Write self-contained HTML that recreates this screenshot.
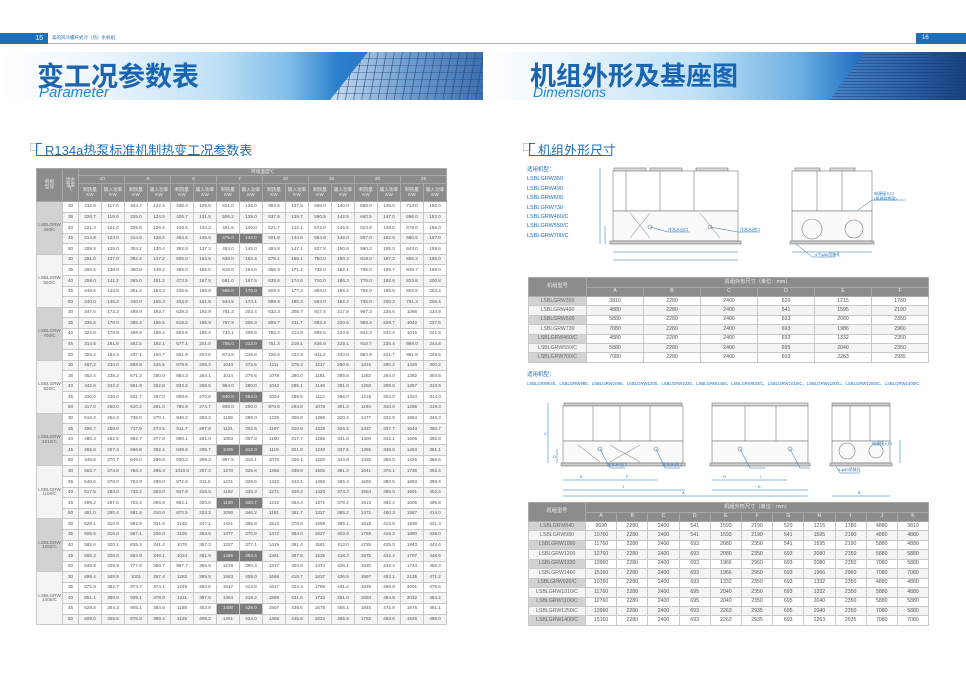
<!DOCTYPE html>
<html><head><meta charset="utf-8">
<style>
*{margin:0;padding:0;box-sizing:border-box}
body{width:966px;height:683px;background:#fff;position:relative;overflow:hidden;font-family:"Liberation Sans","Noto Sans CJK SC",sans-serif}
.abs{position:absolute}
table{border-collapse:collapse;table-layout:fixed;position:absolute}
td{border:1px solid #c8c8c8;text-align:center;font-size:4.6px;color:#555;padding:0;overflow:hidden;white-space:nowrap;line-height:1}
.h td{background:#8c8c8c;color:#f0f0f0;border-color:#a8a8a8}
td.m{background:#d2d2d2;color:#666}
tr.a td{background:#f4f4f4}
td.k{background:#7c7c7c!important;color:#eee}
.lt tr.d{height:10.58px}
.t2 td{font-size:5.2px}
.sec{font-size:13px;color:#1d6fb8}
.brk{position:absolute;border-left:1.5px solid #1d6fb8;border-top:1.5px solid #1d6fb8}
</style></head><body>

<!-- header bars -->
<div class="abs" style="left:0;top:33px;width:48px;height:11px;background:#1d6fb8;color:#fff;font-size:7px;text-align:right;padding-right:5px;line-height:11px">15</div>
<div class="abs" style="left:52px;top:35px;font-size:4.5px;color:#1d6fb8">美的风冷螺杆式冷（热）水机组</div>
<div class="abs" style="left:48px;top:43px;width:868px;height:1px;background:#b0b0b0"></div>
<div class="abs" style="left:916px;top:33px;width:50px;height:11px;background:#1d6fb8;color:#fff;font-size:6px;padding-left:6px;line-height:11px">16</div>

<!-- banners -->
<div class="abs" style="left:0;top:52px;width:483px;height:48px;background:linear-gradient(90deg,#fff 0%,#eef6fc 20%,#bfe0f6 45%,#7fbde9 60%,#2a7fcb 70%,#1b5fae 100%)"></div>
<div class="abs" style="left:330px;top:52px;width:153px;height:48px;background:repeating-linear-gradient(100deg,rgba(255,255,255,0) 0 7px,rgba(40,70,120,.6) 7px 8px),repeating-linear-gradient(0deg,rgba(255,255,255,0) 0 6px,rgba(40,70,120,.4) 6px 7px),linear-gradient(90deg,#c9def2,#6f9fd0 50%,#3c6fb0);clip-path:polygon(38px 0,100% 0,100% 100%,0 100%)"></div>
<div class="abs" style="left:37px;top:55px;font-size:27px;font-weight:bold;color:#1a64b0;letter-spacing:0px">变工况参数表</div>
<div class="abs" style="left:39px;top:84px;font-size:15px;font-style:italic;color:#1a8ad4">Parameter</div>

<div class="abs" style="left:483px;top:52px;width:483px;height:48px;background:linear-gradient(90deg,#fff 0%,#eef6fc 15%,#bfe0f6 45%,#6fb2e4 65%,#1f6fc0 78%,#1b5fae 100%)"></div>
<div class="abs" style="left:830px;top:52px;width:136px;height:48px;background:repeating-linear-gradient(0deg,rgba(20,60,120,.5) 0 1px,rgba(255,255,255,0) 1px 3px),linear-gradient(90deg,#4b86c9,#2a5fa4 60%,#17407e);clip-path:polygon(35px 0,100% 0,100% 100%,0 100%)"></div>
<div class="abs" style="left:530px;top:56px;font-size:26px;font-weight:bold;color:#1a64b0">机组外形及基座图</div>
<div class="abs" style="left:533px;top:84px;font-size:14px;font-style:italic;color:#1a8ad4">Dimensions</div>

<!-- section titles -->
<div class="abs" style="left:30px;top:143px;width:8px;height:8px;border:1px solid #ccc"></div>
<div class="brk" style="left:36px;top:143px;width:6px;height:12px"></div>
<div class="abs" style="left:36px;top:155px;width:192px;height:1px;background:#1d6fb8"></div>
<div class="abs sec" style="left:45px;top:140px">R134a热泵标准机制热变工况参数表</div>

<div class="abs" style="left:523px;top:143px;width:8px;height:8px;border:1px solid #ccc"></div>
<div class="brk" style="left:529px;top:143px;width:6px;height:12px"></div>
<div class="abs" style="left:529px;top:155px;width:79px;height:1px;background:#1d6fb8"></div>
<div class="abs sec" style="left:538px;top:140px">机组外形尺寸</div>

<!-- LEFT TABLE -->
<table class="lt" style="left:36px;top:168px;width:410px">
<colgroup><col style="width:26px"><col style="width:16px"><col span="16" style="width:23px"></colgroup>
<tr class="h" style="height:7px"><td rowspan="3">机组<br>型号</td><td rowspan="3">出水<br>温度<br>℃</td><td colspan="16">环境温度℃</td></tr>
<tr class="h" style="height:8px"><td colspan="2">-10</td><td colspan="2">-5</td><td colspan="2">0</td><td colspan="2">7</td><td colspan="2">10</td><td colspan="2">15</td><td colspan="2">20</td><td colspan="2">25</td></tr>
<tr class="h" style="height:18px"><td>制热量<br>KW</td><td>输入功率<br>KW</td><td>制热量<br>KW</td><td>输入功率<br>KW</td><td>制热量<br>KW</td><td>输入功率<br>KW</td><td>制热量<br>KW</td><td>输入功率<br>KW</td><td>制热量<br>KW</td><td>输入功率<br>KW</td><td>制热量<br>KW</td><td>输入功率<br>KW</td><td>制热量<br>KW</td><td>输入功率<br>KW</td><td>制热量<br>KW</td><td>输入功率<br>KW</td></tr>

<tr class="d"><td class="m" rowspan="5">LSBLGRW<br>460/C</td><td>30</td><td>232.9</td><td>117.0</td><td>343.7</td><td>122.4</td><td>438.4</td><td>129.5</td><td>521.0</td><td>136.0</td><td>553.6</td><td>137.5</td><td>608.0</td><td>140.0</td><td>658.0</td><td>145.0</td><td>713.0</td><td>150.0</td></tr>
<tr class="d a"><td>35</td><td>226.7</td><td>119.0</td><td>335.0</td><td>124.5</td><td>426.7</td><td>131.8</td><td>506.2</td><td>138.0</td><td>537.8</td><td>139.7</td><td>590.5</td><td>142.5</td><td>640.5</td><td>147.0</td><td>696.0</td><td>152.0</td></tr>
<tr class="d"><td>40</td><td>221.3</td><td>121.0</td><td>325.6</td><td>126.4</td><td>416.6</td><td>133.2</td><td>491.5</td><td>140.0</td><td>521.7</td><td>142.1</td><td>572.0</td><td>145.5</td><td>623.8</td><td>149.5</td><td>678.0</td><td>155.0</td></tr>
<tr class="d a"><td>45</td><td>214.8</td><td>123.0</td><td>314.9</td><td>128.5</td><td>404.5</td><td>135.0</td><td class="k">475.0</td><td class="k">142.0</td><td>501.8</td><td>144.6</td><td>554.8</td><td>148.0</td><td>607.0</td><td>152.0</td><td>660.5</td><td>157.0</td></tr>
<tr class="d"><td>50</td><td>208.8</td><td>125.0</td><td>304.1</td><td>130.4</td><td>392.9</td><td>137.2</td><td>453.0</td><td>145.0</td><td>484.8</td><td>147.1</td><td>537.8</td><td>150.6</td><td>590.3</td><td>155.0</td><td>643.0</td><td>159.5</td></tr>

<tr class="d a"><td class="m" rowspan="5">LSBLGRW<br>550/C</td><td>30</td><td>281.0</td><td>137.0</td><td>392.2</td><td>147.2</td><td>505.0</td><td>153.5</td><td>635.0</td><td>162.4</td><td>678.1</td><td>169.1</td><td>750.0</td><td>180.3</td><td>819.0</td><td>187.2</td><td>866.3</td><td>195.0</td></tr>
<tr class="d"><td>35</td><td>269.5</td><td>139.0</td><td>380.8</td><td>149.2</td><td>485.0</td><td>155.5</td><td>615.0</td><td>164.6</td><td>656.9</td><td>171.2</td><td>732.0</td><td>182.1</td><td>795.0</td><td>189.7</td><td>845.7</td><td>198.0</td></tr>
<tr class="d a"><td>40</td><td>258.0</td><td>141.2</td><td>365.0</td><td>151.2</td><td>473.5</td><td>157.8</td><td>591.0</td><td>167.5</td><td>635.6</td><td>174.6</td><td>710.0</td><td>186.3</td><td>776.0</td><td>192.6</td><td>823.8</td><td>200.8</td></tr>
<tr class="d"><td>45</td><td>249.6</td><td>143.5</td><td>351.2</td><td>153.3</td><td>445.6</td><td>159.8</td><td class="k">565.0</td><td class="k">170.0</td><td>609.6</td><td>177.2</td><td>684.0</td><td>189.2</td><td>755.0</td><td>196.5</td><td>802.5</td><td>203.4</td></tr>
<tr class="d a"><td>50</td><td>240.0</td><td>145.2</td><td>340.0</td><td>155.3</td><td>434.8</td><td>161.8</td><td>544.5</td><td>173.1</td><td>588.9</td><td>180.3</td><td>663.0</td><td>192.2</td><td>735.0</td><td>200.3</td><td>781.3</td><td>206.4</td></tr>

<tr class="d"><td class="m" rowspan="5">LSBLGRW<br>700/C</td><td>30</td><td>347.5</td><td>173.3</td><td>498.9</td><td>183.7</td><td>639.3</td><td>192.9</td><td>781.3</td><td>203.4</td><td>832.3</td><td>208.7</td><td>917.4</td><td>217.6</td><td>997.3</td><td>225.6</td><td>1068</td><td>234.9</td></tr>
<tr class="d a"><td>35</td><td>335.6</td><td>176.0</td><td>485.4</td><td>186.5</td><td>616.2</td><td>195.9</td><td>757.9</td><td>206.3</td><td>806.7</td><td>211.7</td><td>893.2</td><td>220.6</td><td>969.4</td><td>228.7</td><td>1042</td><td>237.6</td></tr>
<tr class="d"><td>40</td><td>324.8</td><td>178.9</td><td>468.9</td><td>189.2</td><td>603.6</td><td>198.4</td><td>732.1</td><td>209.6</td><td>782.2</td><td>214.9</td><td>865.6</td><td>223.6</td><td>942.3</td><td>232.4</td><td>1015</td><td>241.8</td></tr>
<tr class="d a"><td>45</td><td>314.5</td><td>181.8</td><td>452.5</td><td>192.1</td><td>577.1</td><td>201.0</td><td class="k">706.0</td><td class="k">213.0</td><td>751.3</td><td>219.1</td><td>836.9</td><td>229.1</td><td>910.7</td><td>235.4</td><td>989.0</td><td>244.8</td></tr>
<tr class="d"><td>50</td><td>304.2</td><td>184.4</td><td>437.1</td><td>194.7</td><td>561.9</td><td>203.6</td><td>674.6</td><td>216.8</td><td>725.6</td><td>222.9</td><td>811.2</td><td>233.0</td><td>884.9</td><td>241.7</td><td>961.8</td><td>249.5</td></tr>

<tr class="d a"><td class="m" rowspan="5">LSBLGRW<br>920/C</td><td>30</td><td>467.2</td><td>234.0</td><td>688.8</td><td>245.5</td><td>878.6</td><td>259.3</td><td>1044</td><td>272.5</td><td>1111</td><td>275.3</td><td>1217</td><td>280.6</td><td>1316</td><td>290.2</td><td>1426</td><td>300.2</td></tr>
<tr class="d"><td>35</td><td>453.4</td><td>238.2</td><td>671.3</td><td>250.0</td><td>854.3</td><td>264.1</td><td>1014</td><td>276.6</td><td>1078</td><td>280.0</td><td>1181</td><td>285.8</td><td>1282</td><td>294.0</td><td>1392</td><td>304.6</td></tr>
<tr class="d a"><td>40</td><td>442.6</td><td>242.2</td><td>651.9</td><td>252.8</td><td>833.2</td><td>266.5</td><td>984.0</td><td>280.0</td><td>1043</td><td>285.1</td><td>1146</td><td>291.0</td><td>1250</td><td>299.0</td><td>1357</td><td>310.6</td></tr>
<tr class="d"><td>45</td><td>430.0</td><td>246.0</td><td>631.7</td><td>257.0</td><td>809.6</td><td>270.8</td><td class="k">940.0</td><td class="k">284.0</td><td>1004</td><td>289.5</td><td>1112</td><td>296.0</td><td>1216</td><td>304.0</td><td>1324</td><td>314.0</td></tr>
<tr class="d a"><td>50</td><td>417.0</td><td>250.0</td><td>610.2</td><td>261.0</td><td>785.9</td><td>274.7</td><td>906.0</td><td>290.0</td><td>970.6</td><td>294.8</td><td>1078</td><td>301.3</td><td>1184</td><td>310.0</td><td>1286</td><td>319.3</td></tr>

<tr class="d"><td class="m" rowspan="5">LSBLGRW<br>1010/C</td><td>30</td><td>516.4</td><td>254.3</td><td>736.0</td><td>270.1</td><td>946.2</td><td>283.3</td><td>1159</td><td>299.0</td><td>1235</td><td>306.8</td><td>1368</td><td>320.3</td><td>1477</td><td>332.9</td><td>1584</td><td>346.3</td></tr>
<tr class="d a"><td>35</td><td>496.7</td><td>258.0</td><td>717.9</td><td>274.5</td><td>911.7</td><td>287.8</td><td>1121</td><td>302.6</td><td>1197</td><td>310.9</td><td>1326</td><td>326.2</td><td>1437</td><td>337.7</td><td>1543</td><td>350.7</td></tr>
<tr class="d"><td>40</td><td>480.3</td><td>262.5</td><td>692.7</td><td>277.8</td><td>890.1</td><td>291.0</td><td>1083</td><td>307.8</td><td>1160</td><td>317.7</td><td>1285</td><td>331.8</td><td>1400</td><td>342.1</td><td>1506</td><td>355.8</td></tr>
<tr class="d a"><td>45</td><td>465.8</td><td>267.3</td><td>666.8</td><td>282.4</td><td>849.9</td><td>295.7</td><td class="k">1035</td><td class="k">312.0</td><td>1115</td><td>321.8</td><td>1240</td><td>337.5</td><td>1365</td><td>348.0</td><td>1463</td><td>361.1</td></tr>
<tr class="d"><td>50</td><td>448.8</td><td>270.7</td><td>646.0</td><td>286.6</td><td>830.2</td><td>299.3</td><td>997.5</td><td>316.1</td><td>1076</td><td>326.1</td><td>1202</td><td>343.8</td><td>1325</td><td>355.0</td><td>1426</td><td>366.6</td></tr>

<tr class="d a"><td class="m" rowspan="5">LSBLGRW<br>1100/C</td><td>30</td><td>563.7</td><td>274.8</td><td>784.4</td><td>295.3</td><td>1010.0</td><td>307.3</td><td>1270</td><td>325.8</td><td>1356</td><td>338.9</td><td>1502</td><td>361.3</td><td>1641</td><td>375.1</td><td>1736</td><td>392.4</td></tr>
<tr class="d"><td>35</td><td>540.6</td><td>278.0</td><td>763.9</td><td>299.0</td><td>972.9</td><td>311.6</td><td>1231</td><td>329.5</td><td>1322</td><td>343.1</td><td>1465</td><td>365.3</td><td>1592</td><td>380.5</td><td>1693</td><td>396.4</td></tr>
<tr class="d a"><td>40</td><td>517.5</td><td>283.0</td><td>732.2</td><td>303.0</td><td>947.9</td><td>316.5</td><td>1182</td><td>335.3</td><td>1271</td><td>349.2</td><td>1420</td><td>373.3</td><td>1554</td><td>385.0</td><td>1651</td><td>402.4</td></tr>
<tr class="d"><td>45</td><td>499.2</td><td>287.6</td><td>702.4</td><td>306.9</td><td>892.1</td><td>320.6</td><td class="k">1130</td><td class="k">340.7</td><td>1222</td><td>354.4</td><td>1371</td><td>379.2</td><td>1513</td><td>392.4</td><td>1605</td><td>406.8</td></tr>
<tr class="d a"><td>50</td><td>481.0</td><td>290.4</td><td>681.4</td><td>310.6</td><td>870.5</td><td>324.2</td><td>1090</td><td>346.2</td><td>1181</td><td>361.7</td><td>1327</td><td>385.2</td><td>1471</td><td>400.3</td><td>1567</td><td>414.0</td></tr>

<tr class="d"><td class="m" rowspan="5">LSBLGRW<br>1250/C</td><td>30</td><td>629.1</td><td>310.9</td><td>892.9</td><td>331.9</td><td>1145</td><td>347.1</td><td>1421</td><td>365.8</td><td>1513</td><td>378.6</td><td>1669</td><td>399.1</td><td>1818</td><td>413.6</td><td>1938</td><td>431.3</td></tr>
<tr class="d a"><td>35</td><td>606.5</td><td>315.0</td><td>867.1</td><td>336.0</td><td>1105</td><td>352.5</td><td>1377</td><td>370.9</td><td>1472</td><td>384.0</td><td>1627</td><td>403.9</td><td>1768</td><td>419.2</td><td>1890</td><td>436.0</td></tr>
<tr class="d"><td>40</td><td>582.6</td><td>320.1</td><td>835.3</td><td>341.4</td><td>1076</td><td>357.3</td><td>1327</td><td>377.1</td><td>1419</td><td>391.4</td><td>1581</td><td>413.0</td><td>1725</td><td>425.0</td><td>1843</td><td>442.4</td></tr>
<tr class="d a"><td>45</td><td>565.3</td><td>326.0</td><td>804.9</td><td>346.1</td><td>1024</td><td>361.9</td><td class="k">1265</td><td class="k">383.4</td><td>1361</td><td>397.5</td><td>1525</td><td>418.3</td><td>1675</td><td>432.4</td><td>1797</td><td>448.6</td></tr>
<tr class="d"><td>50</td><td>545.8</td><td>329.9</td><td>777.9</td><td>350.7</td><td>997.7</td><td>366.8</td><td>1219</td><td>390.3</td><td>1317</td><td>403.6</td><td>1474</td><td>426.1</td><td>1630</td><td>442.4</td><td>1744</td><td>456.3</td></tr>

<tr class="d a"><td class="m" rowspan="5">LSBLGRW<br>1400/C</td><td>30</td><td>696.4</td><td>348.9</td><td>1001</td><td>357.4</td><td>1282</td><td>385.8</td><td>1563</td><td>408.0</td><td>1668</td><td>418.7</td><td>1837</td><td>436.5</td><td>1997</td><td>452.1</td><td>2135</td><td>471.2</td></tr>
<tr class="d"><td>35</td><td>672.9</td><td>352.7</td><td>973.7</td><td>374.1</td><td>1246</td><td>392.6</td><td>1517</td><td>413.8</td><td>1617</td><td>424.2</td><td>1786</td><td>441.2</td><td>1939</td><td>458.8</td><td>2091</td><td>476.6</td></tr>
<tr class="d a"><td>40</td><td>651.1</td><td>358.9</td><td>939.1</td><td>378.8</td><td>1211</td><td>397.6</td><td>1464</td><td>419.2</td><td>1568</td><td>431.6</td><td>1733</td><td>451.0</td><td>1894</td><td>464.8</td><td>2032</td><td>484.2</td></tr>
<tr class="d"><td>45</td><td>629.8</td><td>364.3</td><td>905.1</td><td>384.6</td><td>1155</td><td>402.8</td><td class="k">1400</td><td class="k">426.0</td><td>1507</td><td>438.6</td><td>1675</td><td>456.1</td><td>1845</td><td>472.8</td><td>1976</td><td>491.1</td></tr>
<tr class="d a"><td>50</td><td>609.0</td><td>369.5</td><td>876.8</td><td>389.4</td><td>1125</td><td>408.2</td><td>1351</td><td>434.0</td><td>1456</td><td>445.6</td><td>1622</td><td>466.9</td><td>1792</td><td>483.6</td><td>1926</td><td>496.0</td></tr>
</table>

<!-- RIGHT: models list 1 -->
<div class="abs" style="left:527px;top:166px;font-size:5.5px;color:#1d6fb8;line-height:9.4px">适用机型：<br>LSBLGRW350<br>LSBLGRW490<br>LSBLGRW600<br>LSBLGRW730<br>LSBLGRW460/C<br>LSBLGRW550/C<br>LSBLGRW700/C</div>

<svg class="abs" style="left:483px;top:150px" width="483" height="370" viewBox="483 150 483 370" fill="none" stroke="#777" stroke-width="0.6">
 <rect x="614" y="168" width="32" height="3" fill="#ddd"/><rect x="650" y="168" width="32" height="3" fill="#ddd"/><rect x="696" y="168" width="32" height="3" fill="#ddd"/>
 <rect x="613" y="171" width="125" height="40" fill="#fff"/>
 <line x1="626" y1="171" x2="626" y2="211"/><line x1="660" y1="171" x2="660" y2="211"/><line x1="694" y1="171" x2="694" y2="211"/>
 <rect x="613" y="211" width="125" height="30" fill="#fafafa"/>
 <path d="M630 213 L650 238 M700 213 L720 238 M630 238 L650 213" stroke="#999"/>
 <circle cx="650" cy="227" r="2"/><circle cx="710" cy="227" r="2"/>
 <rect x="610" y="241" width="131" height="3" fill="#ccc"/>
 <path d="M600 168 V244 M605 226 V244 M613 252 H738 M613 260 H738" stroke="#1d6fb8" stroke-width="0.5"/>
 <path d="M650 227 L668 232 H690 M710 227 L738 232 H760" stroke="#1d6fb8" stroke-width="0.5"/>
 <rect x="795" y="168" width="25" height="3" fill="#ddd"/><rect x="830" y="168" width="25" height="3" fill="#ddd"/>
 <rect x="792" y="171" width="80" height="40" fill="#fff"/>
 <line x1="817" y1="171" x2="817" y2="211"/><line x1="842" y1="171" x2="842" y2="211"/>
 <rect x="792" y="211" width="80" height="30" fill="#fafafa"/>
 <circle cx="812" cy="229" r="10"/><circle cx="854" cy="229" r="9"/>
 <rect x="790" y="241" width="84" height="3" fill="#ccc"/>
 <path d="M792 252 H872 M796 244 L812 257 H835 M858 210 L872 200 H905" stroke="#1d6fb8" stroke-width="0.5"/>
 <g>
 <rect x="564" y="403" width="118" height="3" fill="#ccc"/>
 <rect x="563" y="406" width="120" height="35" fill="#fff"/>
 <line x1="593" y1="406" x2="593" y2="441"/><line x1="620" y1="406" x2="620" y2="441"/><line x1="650" y1="406" x2="650" y2="441"/>
 <rect x="563" y="441" width="120" height="22" fill="#fafafa"/>
 <path d="M578 445 L600 462 M610 445 L640 462 M640 445 L610 462" stroke="#999"/>
 <circle cx="600" cy="449" r="2"/><circle cx="656" cy="449" r="2"/>
 <rect x="561" y="463" width="124" height="3" fill="#ccc"/>
 <rect x="712" y="403" width="96" height="3" fill="#ddd"/>
 <rect x="712" y="406" width="96" height="35" fill="#fff"/>
 <line x1="745" y1="406" x2="745" y2="441"/><line x1="776" y1="406" x2="776" y2="441"/>
 <rect x="712" y="441" width="96" height="22" fill="#fafafa"/>
 <circle cx="740" cy="449" r="2"/><circle cx="790" cy="449" r="2"/>
 <rect x="710" y="463" width="100" height="3" fill="#ccc"/>
 <rect x="832" y="403" width="58" height="3" fill="#ccc"/>
 <rect x="832" y="406" width="58" height="35" fill="#fff"/>
 <line x1="850" y1="406" x2="850" y2="441"/><line x1="870" y1="406" x2="870" y2="441"/>
 <rect x="832" y="441" width="58" height="22" fill="#fafafa"/>
 <circle cx="847" cy="451" r="8"/><circle cx="876" cy="451" r="7"/>
 <rect x="830" y="463" width="62" height="3" fill="#ccc"/>
 <path d="M548 403 V463 M557 449 V463 M563 480 H600 M600 480 H657 M563 490 H685 M563 496 H808 M712 480 H738 M738 480 H787 M712 490 H808 M832 496 H890 M900 440 V463" stroke="#1d6fb8" stroke-width="0.5"/>
 <path d="M600 449 L610 468 H625 M656 449 L665 468 H680 M740 449 L750 468 H765 M790 449 L800 468 H810 M836 466 L840 473 H860" stroke="#1d6fb8" stroke-width="0.5"/>
 </g>
 <g font-size="4" fill="#1d6fb8" stroke="none" font-family="Liberation Sans, Noto Sans CJK SC, sans-serif">
 <text x="668" y="231">冷冻水出口</text><text x="740" y="231">冷冻水进口</text>
 <text x="874" y="195">电源接入口</text><text x="874" y="200">(电源软底面)</text>
 <text x="815" y="256">4个φ50吊装孔</text>
 <text x="580" y="478">E</text><text x="626" y="478">F</text><text x="622" y="488">J</text><text x="682" y="494">A</text>
 <text x="723" y="478">H</text><text x="760" y="478">I</text><text x="758" y="488">K</text><text x="858" y="494">B</text>
 <text x="544" y="435">C</text><text x="553" y="458">D</text>
 <text x="607" y="466">冷冻水出口</text><text x="662" y="466">冷冻水进口</text>
 <text x="872" y="445">电源接入口</text><text x="838" y="471">4-φ50吊装孔</text>
 </g>
</svg>

<!-- TABLE 1 -->
<table class="t2" style="left:528px;top:277px;width:400px">
<colgroup><col style="width:58px"><col span="6" style="width:57px"></colgroup>
<tr class="h" style="height:10px"><td rowspan="2">机组型号</td><td colspan="6">机组外形尺寸（单位：mm）</td></tr>
<tr class="h" style="height:9px"><td>A</td><td>B</td><td>C</td><td>D</td><td>E</td><td>F</td></tr>
<tr style="height:9.4px"><td class="m">LSBLGRW350</td><td>3810</td><td>2280</td><td>2400</td><td>520</td><td>1215</td><td>1780</td></tr>
<tr style="height:9.4px" class="a"><td class="m">LSBLGRW490</td><td>4880</td><td>2280</td><td>2400</td><td>541</td><td>1595</td><td>2190</td></tr>
<tr style="height:9.4px"><td class="m">LSBLGRW600</td><td>5880</td><td>2280</td><td>2400</td><td>693</td><td>2080</td><td>2350</td></tr>
<tr style="height:9.4px" class="a"><td class="m">LSBLGRW730</td><td>7080</td><td>2280</td><td>2400</td><td>693</td><td>1986</td><td>2960</td></tr>
<tr style="height:9.4px"><td class="m">LSBLGRW460/C</td><td>4880</td><td>2280</td><td>2400</td><td>693</td><td>1332</td><td>2350</td></tr>
<tr style="height:9.4px" class="a"><td class="m">LSBLGRW550/C</td><td>5880</td><td>2280</td><td>2400</td><td>695</td><td>2040</td><td>2350</td></tr>
<tr style="height:9.4px"><td class="m">LSBLGRW700/C</td><td>7080</td><td>2280</td><td>2400</td><td>693</td><td>2263</td><td>2935</td></tr>
</table>

<div class="abs" style="left:527px;top:370px;font-size:5.5px;color:#1d6fb8">适用机型：</div>
<div class="abs" style="left:527px;top:381px;font-size:4.3px;color:#1d6fb8;white-space:nowrap">LSBLGRW840、LSBLGRW980、LSBLGRW1090、LSBLGRW1200、LSBLGRW1330、LSBLGRW1460、LSBLGRW920/C、LSBLGRW1010/C、LSBLGRW1100/C、LSBLGRW1250/C、LSBLGRW1400/C</div>

<!-- TABLE 2 -->
<table class="t2" style="left:528px;top:502px;width:400px">
<colgroup><col style="width:57px"><col span="11" style="width:31.2px"></colgroup>
<tr class="h" style="height:10px"><td rowspan="2">机组型号</td><td colspan="11">机组外形尺寸（单位：mm）</td></tr>
<tr class="h" style="height:9px"><td>A</td><td>B</td><td>C</td><td>D</td><td>E</td><td>F</td><td>G</td><td>H</td><td>I</td><td>J</td><td>K</td></tr>
<tr style="height:9.45px"><td class="m">LSBLGRW840</td><td>9690</td><td>2280</td><td>2400</td><td>541</td><td>1593</td><td>2190</td><td>520</td><td>1215</td><td>1780</td><td>4880</td><td>3810</td></tr>
<tr style="height:9.45px" class="a"><td class="m">LSBLGRW980</td><td>10760</td><td>2280</td><td>2400</td><td>541</td><td>1593</td><td>2190</td><td>541</td><td>1595</td><td>2190</td><td>4880</td><td>4880</td></tr>
<tr style="height:9.45px"><td class="m">LSBLGRW1090</td><td>11760</td><td>2280</td><td>2400</td><td>693</td><td>2080</td><td>2350</td><td>541</td><td>1595</td><td>2190</td><td>5880</td><td>4880</td></tr>
<tr style="height:9.45px" class="a"><td class="m">LSBLGRW1200</td><td>12760</td><td>2280</td><td>2400</td><td>693</td><td>2080</td><td>2350</td><td>693</td><td>2080</td><td>2350</td><td>5880</td><td>5880</td></tr>
<tr style="height:9.45px"><td class="m">LSBLGRW1330</td><td>13960</td><td>2280</td><td>2400</td><td>693</td><td>1966</td><td>2960</td><td>693</td><td>2080</td><td>2350</td><td>7080</td><td>5880</td></tr>
<tr style="height:9.45px" class="a"><td class="m">LSBLGRW1460</td><td>15160</td><td>2280</td><td>2400</td><td>693</td><td>1966</td><td>2960</td><td>693</td><td>1966</td><td>2960</td><td>7080</td><td>7080</td></tr>
<tr style="height:9.45px"><td class="m">LSBLGRW920/C</td><td>10760</td><td>2280</td><td>2400</td><td>693</td><td>1332</td><td>2350</td><td>693</td><td>1332</td><td>2350</td><td>4880</td><td>4880</td></tr>
<tr style="height:9.45px" class="a"><td class="m">LSBLGRW1010/C</td><td>11760</td><td>2280</td><td>2400</td><td>695</td><td>2040</td><td>2350</td><td>693</td><td>1332</td><td>2350</td><td>5880</td><td>4880</td></tr>
<tr style="height:9.45px"><td class="m">LSBLGRW1100/C</td><td>12760</td><td>2280</td><td>2400</td><td>695</td><td>2040</td><td>2350</td><td>695</td><td>2040</td><td>2350</td><td>5880</td><td>5880</td></tr>
<tr style="height:9.45px" class="a"><td class="m">LSBLGRW1250/C</td><td>13960</td><td>2280</td><td>2400</td><td>693</td><td>2263</td><td>2935</td><td>695</td><td>2040</td><td>2350</td><td>7080</td><td>5880</td></tr>
<tr style="height:9.45px"><td class="m">LSBLGRW1400/C</td><td>15160</td><td>2280</td><td>2400</td><td>693</td><td>2263</td><td>2935</td><td>693</td><td>2263</td><td>2935</td><td>7080</td><td>7080</td></tr>
</table>

</body></html>
